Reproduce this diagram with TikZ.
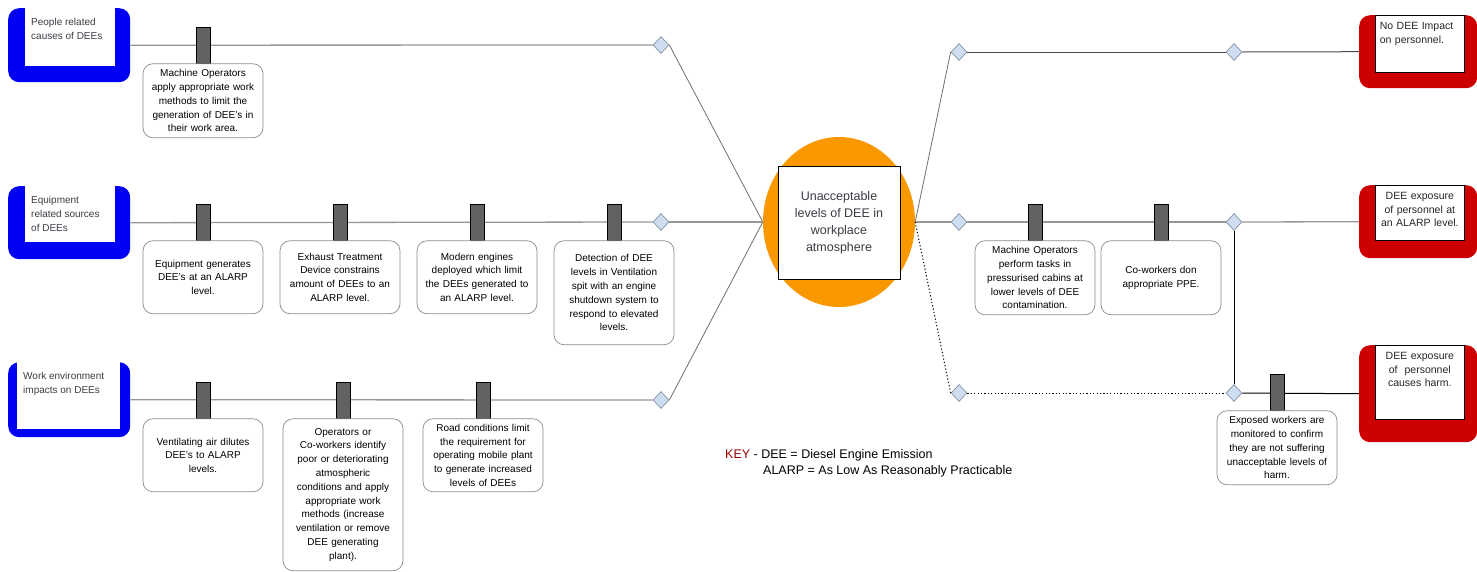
\documentclass[tikz,border=0pt]{standalone}
\usepackage{fontspec}
\setmainfont{Liberation Sans}
\usetikzlibrary{shapes.geometric}
\definecolor{tb}{RGB}{0,0,245}
\definecolor{cr}{RGB}{204,0,0}
\definecolor{og}{RGB}{250,152,0}
\definecolor{df}{RGB}{206,222,240}
\definecolor{dd}{RGB}{130,146,165}
\definecolor{bg}{RGB}{98,98,98}
\definecolor{lg}{RGB}{150,150,150}
\definecolor{mg}{RGB}{110,110,110}
\definecolor{kg}{RGB}{75,75,75}
\definecolor{tg}{RGB}{60,60,70}
\definecolor{kr}{RGB}{150,0,0}
\tikzset{
threat/.style={fill=tb,draw=none,rounded corners=11pt,minimum width=122pt,inner sep=0pt},
tinner/.style={fill=white,draw=none,inner sep=0pt},
ttext/.style={text=tg,inner sep=0pt,align=left,font=\fontsize{10}{14}\selectfont},
conseq/.style={fill=cr,draw=none,rounded corners=11pt,minimum width=118pt,inner sep=0pt},
cinner/.style={fill=white,draw=black,line width=0.6pt,minimum width=89pt,inner sep=0pt},
ctext/.style={text=black!85,inner sep=0pt,text width=80pt,font=\fontsize{10.5}{13.7}\selectfont},
gate/.style={diamond,draw=dd,fill=df,line width=0.7pt,minimum width=16pt,minimum height=17pt,inner sep=0pt},
bar/.style={rectangle,draw=black,fill=bg,line width=0.8pt,minimum width=14pt,minimum height=36pt,inner sep=0pt},
blabel/.style={rectangle,rounded corners=10pt,draw=black!45,fill=white,line width=0.7pt,minimum width=120pt,text width=114pt,inner sep=3pt,align=center,font=\fontsize{10}{13.8}\selectfont},
link/.style={draw=lg,line width=1.3pt},
feed/.style={draw=mg,line width=0.8pt},
dlink/.style={draw=kg,line width=1pt},
blink/.style={draw=black,line width=1pt},
olink/.style={draw=black,line width=1pt,dash pattern=on 1.2pt off 2.2pt},
keyt/.style={inner sep=0pt,font=\fontsize{12.5}{16}\selectfont}
}
\newcommand{\threatbox}[8]{
\node[threat,minimum height=#4pt,anchor=north west] (#1) at (#2,#3) {};
\node[tinner,minimum width=#6pt,minimum height=#7pt,anchor=north west] (#1i) at (#2+#5,#3) {};
\node[ttext,anchor=north west] (#1t) at ([shift={(6,10)}]#1i.north west) {#8};
}
\newcommand{\conbox}[7]{
\node[conseq,minimum height=#4pt,anchor=north west] (#1) at (#2,#3) {};
\node[cinner,minimum height=#5pt,anchor=north west] (#1i) at (#2+16,#3) {};
\node[ctext,align=#6,anchor=north] (#1t) at ([yshift=-7pt]#1i.north) {#7};
}
\newcommand{\ctrlbar}[5]{
\node[bar] (#1) at (#2,#3) {};
\node[blabel,minimum height=#4pt,anchor=north] (#1l) at (#1.south) {#5};
}
\begin{document}
\begin{tikzpicture}[x=1pt,y=-1pt]
\useasboundingbox (0,0) rectangle (1477,571);
\threatbox{tp}{8}{8}{74}{17}{90}{58}{People related\\causes of DEEs}
\threatbox{te}{8}{186}{73}{17}{90}{56}{Equipment\\related sources\\of DEEs}
\threatbox{tw}{8}{362}{75}{9}{103}{67}{Work environment\\impacts on DEEs}
\node[gate] (gp) at (661,45) {};
\node[gate] (ge) at (661,222) {};
\node[gate] (gw) at (661,400) {};
\node[ellipse,fill=og,minimum width=152pt,minimum height=170pt,inner sep=0pt] (top) at (839,222) {};
\node[rectangle,draw=black,fill=white,line width=0.8pt,minimum width=122pt,minimum height=113pt,align=center,text=tg,font=\fontsize{12.5}{17}\selectfont] (topx) at (839,222.5) {Unacceptable\\levels of DEE in\\workplace\\atmosphere};
\node[gate] (ga) at (959,52) {};
\node[gate] (gb) at (959,222) {};
\node[gate] (gc) at (959,393) {};
\node[gate] (sa) at (1234,52) {};
\node[gate] (sb) at (1234,222) {};
\node[gate] (sc) at (1234,393) {};
\conbox{cn}{1359}{15}{73}{57}{left}{No DEE Impact\\on personnel.}
\conbox{ca}{1359}{185}{73}{55}{center}{DEE exposure\\of personnel at\\an ALARP level.}
\conbox{ch}{1359}{345}{97}{74}{center}{DEE exposure\\of \ personnel\\causes harm.}
\draw[link] (tp.east) -- (gp.west);
\draw[link] (te.east) -- (ge.west);
\draw[link] (tw.east) -- (gw.west);
\draw[feed] (gp.east) -- (top.west);
\draw[link] (ge.east) -- (top.west);
\draw[feed] (gw.east) -- (top.west);
\draw[feed] (top.east) -- (ga.west);
\draw[link] (top.east) -- (gb.west);
\draw[olink] (top.east) -- (gc.west);
\draw[dlink] (ga.east) -- (sa.west);
\draw[dlink] (sa.east) -- (cn.west);
\draw[link] (gb.east) -- (sb.west);
\draw[link] (sb.east) -- (ca.west);
\draw[blink] (sb.south) -- (sc.north);
\draw[olink] (gc.east) -- (sc.west);
\draw[blink] (sc.east) -- (ch.west);
\ctrlbar{bp}{203}{45}{74}{Machine Operators\\apply appropriate work\\methods to limit the\\generation of DEE's in\\their work area.}
\ctrlbar{be1}{203}{222}{73}{Equipment generates\\DEE's at an ALARP\\level.}
\ctrlbar{be2}{340}{222}{73}{Exhaust Treatment\\Device constrains\\amount of DEEs to an\\ALARP level.}
\ctrlbar{be3}{477}{222}{73}{Modern engines\\deployed which limit\\the DEEs generated to\\an ALARP level.}
\ctrlbar{be4}{614}{222}{104}{Detection of DEE\\levels in Ventilation\\spit with an engine\\shutdown system to\\respond to elevated\\levels.}
\ctrlbar{bw1}{203}{400}{73}{Ventilating air dilutes\\DEE's to ALARP\\levels.}
\ctrlbar{bw2}{343}{400}{152}{Operators or\\Co-workers identify\\poor or deteriorating\\atmospheric\\conditions and apply\\appropriate work\\methods (increase\\ventilation or remove\\DEE generating\\plant).}
\ctrlbar{bw3}{483}{400}{73}{Road conditions limit\\the requirement for\\operating mobile plant\\to generate increased\\levels of DEEs}
\ctrlbar{bm1}{1035}{222}{74}{Machine Operators\\perform tasks in\\pressurised cabins at\\lower levels of DEE\\contamination.}
\ctrlbar{bm2}{1161}{222}{74}{Co-workers don\\appropriate PPE.}
\ctrlbar{bh}{1277}{392}{74}{Exposed workers are\\monitored to confirm\\they are not suffering\\unacceptable levels of\\harm.}
\node[keyt,anchor=west] (k1) at (725,455) {\textcolor{kr}{KEY} - DEE = Diesel Engine Emission};
\node[keyt,anchor=west] (k2) at (763,471) {ALARP = As Low As Reasonably Practicable};
\end{tikzpicture}
\end{document}
